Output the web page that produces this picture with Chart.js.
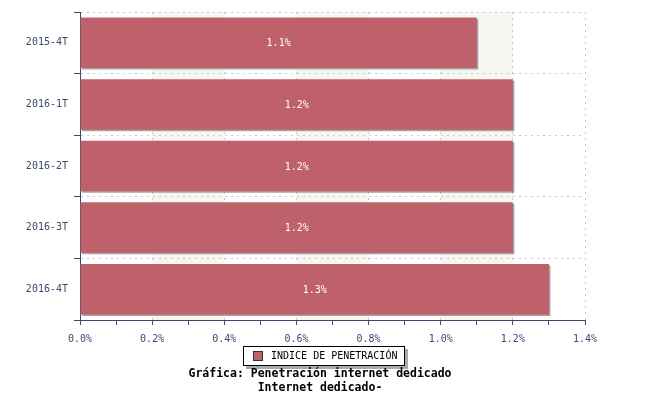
<!DOCTYPE html>
<html><head><meta charset="utf-8">
<script src="https://cdn.jsdelivr.net/npm/chart.js@4"></script>
<style>html,body{margin:0;padding:0;background:#fff}#w{width:650px;height:400px}</style>
</head><body><div id="w"><canvas id="c"></canvas></div>
<script>
const categories = ["2015-4T","2016-1T","2016-2T","2016-3T","2016-4T"];
const seriesName = "INDICE DE PENETRACIÓN";
const values = [1.1, 1.2, 1.2, 1.2, 1.3];
const titleLines = ["Gráfica: Penetración internet dedicado", "Internet dedicado-"];

const axisColor = '#3d4a6e';
const barColor = '#be616b';
const mono = "'DejaVu Sans Mono', monospace";

const bandsPlugin = {
  id: 'bands',
  beforeDraw(chart) {
    const {ctx, chartArea: a, scales: {x}} = chart;
    ctx.save();
    ctx.fillStyle = '#f7f7f2';
    for (let v = 0.2; v < 1.4; v += 0.4) {
      const x0 = x.getPixelForValue(v), x1 = x.getPixelForValue(v + 0.2);
      ctx.fillRect(x0, a.top, x1 - x0, a.bottom - a.top);
    }
    ctx.restore();
  },
  beforeDatasetDraw(chart) {
    const ctx = chart.ctx;
    ctx.save();
    ctx.shadowColor = 'rgba(140,130,135,0.75)';
    ctx.shadowOffsetX = 1.5; ctx.shadowOffsetY = 1.5; ctx.shadowBlur = 0;
  },
  afterDatasetDraw(chart) { chart.ctx.restore(); },
  afterDraw(chart) {
    const ctx = chart.ctx;
    const meta = chart.getDatasetMeta(0);
    ctx.save();
    ctx.font = '10px ' + mono;
    ctx.fillStyle = '#ffffff';
    ctx.textAlign = 'center'; ctx.textBaseline = 'middle';
    meta.data.forEach((bar, i) => {
      const v = chart.data.datasets[0].data[i];
      ctx.fillText(v.toFixed(1) + '%', (bar.x + bar.base) / 2, bar.y + 1);
    });
    // legend
    const lx = 243, ly = 346, lw = 162, lh = 20;
    ctx.fillStyle = '#aaaaaa';
    ctx.fillRect(lx + 3, ly + 3, lw, lh);
    ctx.fillStyle = '#ffffff';
    ctx.fillRect(lx, ly, lw, lh);
    ctx.strokeStyle = '#000'; ctx.lineWidth = 1;
    ctx.strokeRect(lx + 0.5, ly + 0.5, lw - 1, lh - 1);
    ctx.fillStyle = chart.data.datasets[0].backgroundColor;
    ctx.fillRect(lx + 10, ly + 5, 10, 10);
    ctx.strokeStyle = '#333';
    ctx.strokeRect(lx + 10.5, ly + 5.5, 9, 9);
    ctx.fillStyle = '#000';
    ctx.textAlign = 'left';
    ctx.font = '10px ' + mono;
    ctx.fillText(chart.data.datasets[0].label, lx + 28, ly + 10.5);
    // title
    ctx.font = 'bold 11.5px ' + mono;
    ctx.textAlign = 'center';
    ctx.fillText(titleLines[0], 320, 374);
    ctx.fillText(titleLines[1], 320, 388);
    ctx.restore();
  }
};

new Chart(document.getElementById('c'), {
  type: 'bar',
  data: {
    labels: categories,
    datasets: [{
      label: seriesName,
      data: values,
      backgroundColor: barColor,
      borderWidth: 0,
      barPercentage: 0.82,
      categoryPercentage: 1.0
    }]
  },
  options: {
    indexAxis: 'y',
    responsive: true,
    maintainAspectRatio: false,
    animation: false,
    layout: { padding: { top: 10, right: 65, bottom: 50, left: 0 } },
    plugins: { legend: { display: false }, tooltip: { enabled: false }, title: { display: false } },
    scales: {
      x: {
        min: 0, max: 1.4,
        afterFit(s) { s.height = 30; },
        afterBuildTicks(s) {
          const t = [];
          for (let i = 0; i <= 14; i++) t.push({ value: i / 10 });
          s.ticks = t;
        },
        ticks: {
          autoSkip: false, maxRotation: 0,
          color: axisColor,
          font: { family: mono, size: 10 },
          padding: 8,
          callback(v) { const k = Math.round(v * 10); return k % 2 === 0 ? (k / 10).toFixed(1) + '%' : ''; }
        },
        grid: {
          color(c) { const k = Math.round(c.tick.value * 10); return (k % 2 === 0 && k > 0) ? '#c8c8c8' : 'rgba(0,0,0,0)'; },
          tickColor: axisColor,
          tickLength: 5,
          tickBorderDash: [],
          drawTicks: true,
        },
        border: { color: axisColor, width: 1, dash: [2, 4] }
      },
      y: {
        afterFit(s) { s.width = 80; },
        ticks: { color: axisColor, font: { family: mono, size: 10 }, padding: 6 },
        grid: {
          offset: true,
          color: '#c8c8c8',
          tickColor: axisColor,
          tickLength: 6,
          tickBorderDash: []
        },
        border: { color: axisColor, width: 1, dash: [2, 4] }
      }
    }
  },
  plugins: [bandsPlugin]
});
</script>
</body></html>
